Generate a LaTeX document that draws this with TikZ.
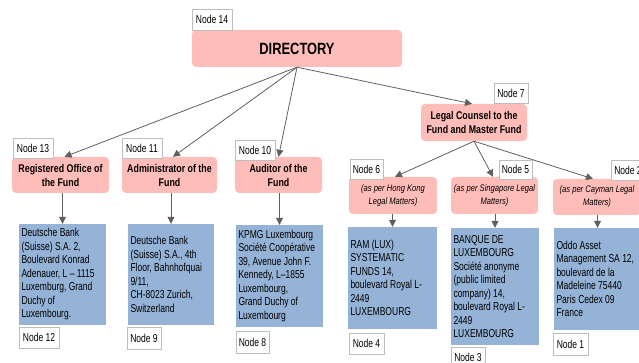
\documentclass[tikz,border=0pt]{standalone}
\usepackage{fontspec}
\setmainfont{Liberation Sans}[FakeStretch=0.74]
\newfontfamily\hdrfont{Liberation Sans}[FakeStretch=0.79]
\newfontfamily\itfont{Liberation Sans}[FakeStretch=0.80]
\usetikzlibrary{arrows.meta}
\definecolor{pinkfill}{HTML}{FFBDB9}
\definecolor{bluefill}{HTML}{95B3D7}
\definecolor{tagline}{HTML}{BDBDBD}
\definecolor{arrowcol}{HTML}{5F5F5F}
\begin{document}
\begin{tikzpicture}[x=1pt,y=-1pt,
  pinkbox/.style={fill=pinkfill, draw=none, rounded corners=4pt, align=center,
    font=\hdrfont\fontsize{11.2}{14}\selectfont\bfseries, inner sep=0pt},
  italbox/.style={pinkbox, font=\itfont\fontsize{9.5}{13}\selectfont\itshape},
  bluebox/.style={fill=bluefill, draw=none, inner sep=0pt},
  bluetext/.style={anchor=west, align=left, inner sep=0pt, xshift=2.5pt,
    font=\fontsize{11.5}{13.5}\selectfont},
  tag/.style={draw=tagline, line width=0.8pt, fill=white, inner sep=0pt,
    font=\fontsize{11.5}{12}\selectfont},
  conn/.style={draw=arrowcol, line width=0.8pt,
    -{Triangle[length=7pt,width=7pt]}, arrowcol}
]
\useasboundingbox (0,0) rectangle (639,363);
\clip (0,0) rectangle (639,363);

% top
\node[pinkbox, minimum width=210pt, minimum height=37pt,
  font=\hdrfont\fontsize{16.3}{18}\selectfont\bfseries] (dir) at (297,48.5) {DIRECTORY};

% second level
\node[pinkbox, minimum width=97pt, minimum height=36pt] (reg) at (60.5,175)
  {Registered Office of\\the Fund};
\node[pinkbox, minimum width=95pt, minimum height=36pt] (adm) at (169.5,175)
  {Administrator of the\\Fund};
\node[pinkbox, minimum width=87pt, minimum height=36pt] (aud) at (278.5,175)
  {Auditor of the\\Fund};
\node[pinkbox, minimum width=106pt, minimum height=37pt] (legal) at (474,122.5)
  {Legal Counsel to the\\Fund and Master Fund};

% legal sub
\node[italbox, minimum width=88pt, minimum height=37pt] (hk) at (393,195.5)
  {(as per Hong Kong\\Legal Matters)};
\node[italbox, minimum width=87pt, minimum height=37pt] (sg) at (494.5,195.5)
  {(as per Singapore Legal\\Matters)};
\node[italbox, minimum width=88pt, minimum height=36pt] (cay) at (597,197)
  {(as per Cayman Legal\\Matters)};

% blue boxes
\node[bluebox, minimum width=87pt, minimum height=101pt] (b12) at (62.5,274.5) {};
\node[bluetext] (t12) at (b12.west) {Deutsche Bank\\(Suisse) S.A. 2,\\Boulevard Konrad\\Adenauer, L – 1115\\Luxemburg, Grand\\Duchy of\\Luxembourg.};
\node[bluebox, minimum width=86pt, minimum height=101pt] (b9) at (171,274.5) {};
\node[bluetext] (t9) at (b9.west) {Deutsche Bank\\(Suisse) S.A., 4th\\Floor, Bahnhofquai\\9/11,\\CH-8023 Zurich,\\Switzerland};
\node[bluebox, minimum width=87pt, minimum height=102pt] (b8) at (279.5,276) {};
\node[bluetext] (t8) at (b8.west) {KPMG Luxembourg\\Société Coopérative\\39, Avenue John F.\\Kennedy, L–1855\\Luxembourg,\\Grand Duchy of\\Luxembourg};
\node[bluebox, minimum width=89pt, minimum height=102pt] (b4) at (392.5,278) {};
\node[bluetext] (t4) at (b4.west) {RAM (LUX)\\SYSTEMATIC\\FUNDS 14,\\boulevard Royal L-\\2449\\LUXEMBOURG};
\node[bluebox, minimum width=88pt, minimum height=117pt] (b3) at (495,286.5) {};
\node[bluetext] (t3) at (b3.west) {BANQUE DE\\LUXEMBOURG\\Société anonyme\\(public limited\\company) 14,\\boulevard Royal L-\\2449\\LUXEMBOURG};
\node[bluebox, minimum width=87pt, minimum height=102pt] (b1) at (597.5,279) {};
\node[bluetext] (t1) at (b1.west) {Oddo Asset\\Management SA 12,\\boulevard de la\\Madeleine 75440\\Paris Cedex 09\\France};

% connectors
\draw[conn] (dir.south) -- ([xshift=4pt]reg.north);
\draw[conn] (dir.south) -- ([xshift=3.5pt]adm.north);
\draw[conn] (dir.south) -- (aud.north);
\draw[conn] (dir.south) -- ([xshift=-2pt]legal.north);
\draw[conn] (legal.south) -- ([xshift=2pt]hk.north);
\draw[conn] (legal.south) -- ([xshift=-1.5pt]sg.north);
\draw[conn] (legal.south) -- ([xshift=-4pt]cay.north);
\draw[conn] (b12.north |- reg.south) -- (b12.north);
\draw[conn] (b9.north |- adm.south) -- (b9.north);
\draw[conn] (b8.north |- aud.south) -- (b8.north);
\draw[conn] (b4.north |- hk.south) -- (b4.north);
\draw[conn] (b3.north |- sg.south) -- (b3.north);
\draw[conn] (b1.north |- cay.south) -- (b1.north);

% tags
\node[tag, minimum width=40pt, minimum height=21pt] (n14) at (212,19.5) {Node 14};
\node[tag, minimum width=40pt, minimum height=20pt] (n13) at (33,148) {Node 13};
\node[tag, minimum width=40pt, minimum height=20pt] (n11) at (142,148) {Node 11};
\node[tag, minimum width=40pt, minimum height=20pt] (n10) at (255,150) {Node 10};
\node[tag, minimum width=34pt, minimum height=20pt] (n7) at (511,93) {Node 7};
\node[tag, minimum width=33pt, minimum height=20pt] (n6) at (366.5,169) {Node 6};
\node[tag, minimum width=33pt, minimum height=19pt] (n5) at (515.5,169.5) {Node 5};
\node[tag, minimum width=34pt, minimum height=20pt] (n2) at (628,170) {Node 2};
\node[tag, minimum width=40pt, minimum height=21pt] (n12) at (39,337.5) {Node 12};
\node[tag, minimum width=34pt, minimum height=22pt] (n9) at (144,338) {Node 9};
\node[tag, minimum width=33pt, minimum height=22pt] (n8) at (252.5,342) {Node 8};
\node[tag, minimum width=35pt, minimum height=21pt] (n4) at (366.5,343.5) {Node 4};
\node[tag, minimum width=34pt, minimum height=21pt] (n3) at (468,357.5) {Node 3};
\node[tag, minimum width=35pt, minimum height=22pt] (n1) at (570.5,344) {Node 1};
\end{tikzpicture}
\end{document}
